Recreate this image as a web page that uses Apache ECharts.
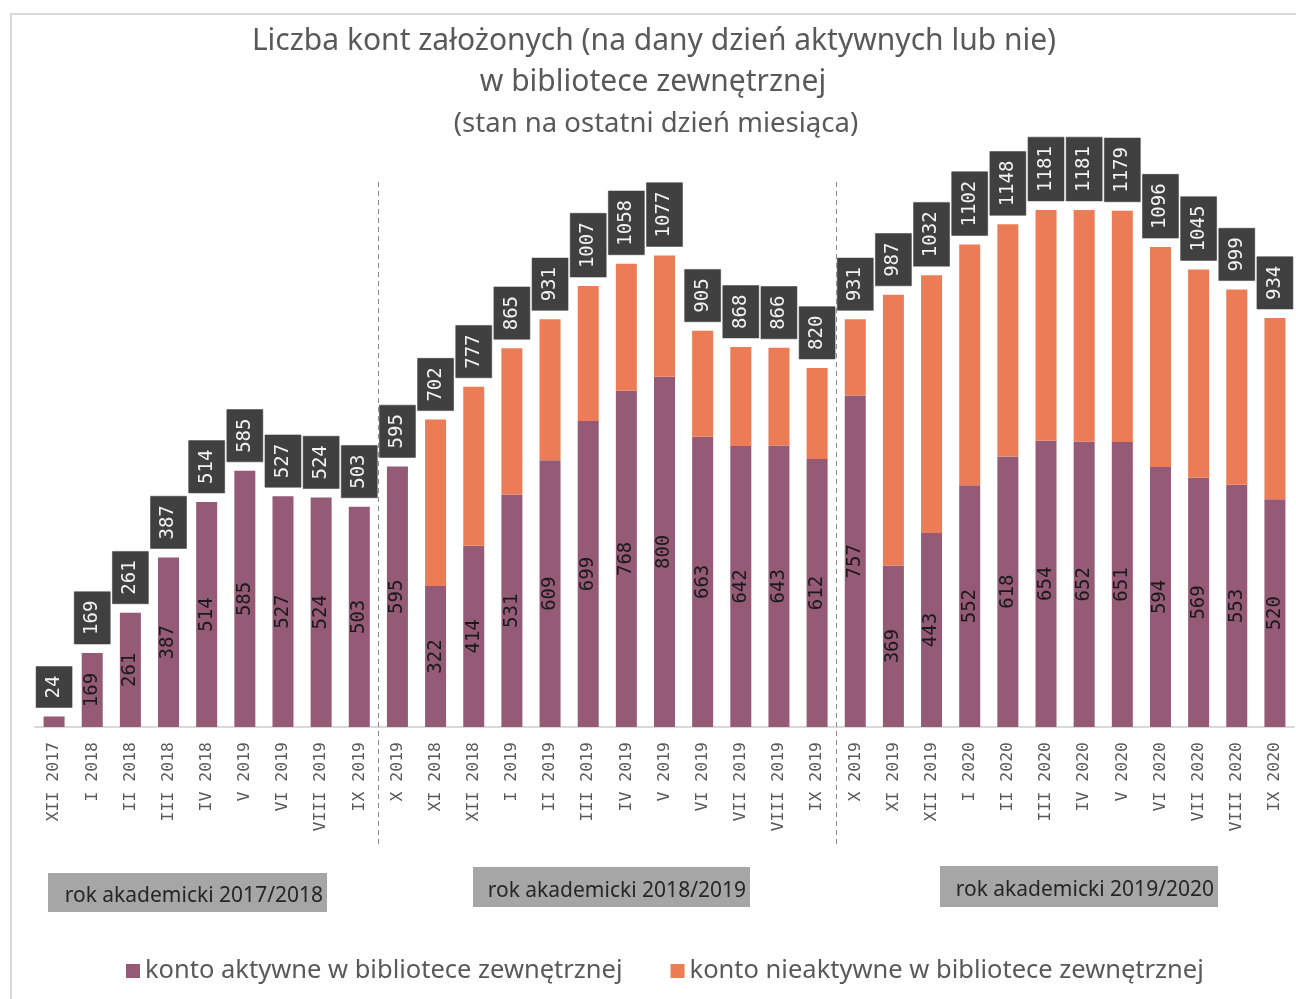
<!DOCTYPE html>
<html>
<head>
<meta charset="utf-8">
<script src="https://cdn.jsdelivr.net/npm/echarts@6/dist/echarts.min.js"></script>
<style>
html,body{margin:0;padding:0;background:#fff;}
#chart{width:1296px;height:999px;}
</style>
</head>
<body>
<div id="chart"></div>
<script>
const categories = ['XII 2017','I 2018','II 2018','III 2018','IV 2018','V 2019','VI 2019','VIII 2019','IX 2019',
  'X 2019','XI 2018','XII 2018','I 2019','II 2019','III 2019','IV 2019','V 2019','VI 2019','VII 2019','VIII 2019','IX 2019',
  'X 2019','XI 2019','XII 2019','I 2020','II 2020','III 2020','IV 2020','V 2020','VI 2020','VII 2020','VIII 2020','IX 2020'];
const active = [24,169,261,387,514,585,527,524,503,
  595,322,414,531,609,699,768,800,663,642,643,612,
  757,369,443,552,618,654,652,651,594,569,553,520];
const inactive = [0,0,0,0,0,0,0,0,0,
  0,380,363,334,322,308,290,277,242,226,223,208,
  174,618,589,550,530,527,529,528,502,476,446,414];
const totals = [24,169,261,387,514,585,527,524,503,
  595,702,777,865,931,1007,1058,1077,905,868,866,820,
  931,987,1032,1102,1148,1181,1181,1179,1096,1045,999,934];
const seriesNames = ['konto aktywne w bibliotece zewnętrznej','konto nieaktywne w bibliotece zewnętrznej'];
const groupLabels = ['rok akademicki 2017/2018','rok akademicki 2018/2019','rok akademicki 2019/2020'];
const groupBreaks = [8, 20]; // last index of groups 1 and 2

const chart = echarts.init(document.getElementById('chart'));
const mono = '"DejaVu Sans Mono", monospace';
const sans = '"Noto Sans", "Open Sans", sans-serif';
const barW = 21;

chart.setOption({
  animation: false,
  backgroundColor: '#ffffff',
  title: [
    {text: 'Liczba kont założonych (na dany dzień aktywnych lub nie)', left: 649, top: 21, textAlign: 'center',
     textStyle: {fontFamily: sans, fontSize: 30, fontWeight: 'normal', color: '#595959'}},
    {text: 'w bibliotece zewnętrznej', left: 648, top: 62, textAlign: 'center',
     textStyle: {fontFamily: sans, fontSize: 30, fontWeight: 'normal', color: '#595959'}},
    {text: '(stan na ostatni dzień miesiąca)', left: 651, top: 105, textAlign: 'center',
     textStyle: {fontFamily: sans, fontSize: 27.5, fontWeight: 'normal', color: '#595959'}}
  ],
  legend: {
    data: seriesNames,
    left: 121, top: 953,
    icon: 'rect', itemWidth: 14, itemHeight: 14, itemGap: 48,
    textStyle: {fontFamily: sans, fontSize: 25.5, color: '#595959'}
  },
  grid: {left: 35, right: 2, top: 114, bottom: 272},
  xAxis: {
    type: 'category', data: categories,
    axisLine: {lineStyle: {color: '#d9d9d9', width: 2}},
    axisTick: {show: false},
    axisLabel: {rotate: 90, interval: 0, margin: 15, color: '#595959', fontFamily: mono, fontSize: 16.5}
  },
  yAxis: {type: 'value', min: 0, max: 1400, show: false, splitLine: {show: false}},
  series: [
    {
      name: seriesNames[0], type: 'bar', stack: 'a', data: active, barWidth: barW,
      itemStyle: {color: '#955A75'},
      label: {show: true, position: 'inside', rotate: 90, color: '#1a1a1a', fontFamily: mono, fontSize: 19,
        formatter: p => p.value < 60 ? '' : String(p.value)}
    },
    {
      name: seriesNames[1], type: 'bar', stack: 'a', data: inactive, barWidth: barW,
      itemStyle: {color: '#EC7C56'}
    },
    {
      name: 'suma', type: 'bar', data: totals, barWidth: barW, barGap: '-100%', z: 1,
      itemStyle: {color: 'rgba(0,0,0,0)'},
      label: {show: true, position: 'top', distance: 9, rotate: 90, align: 'left', verticalAlign: 'middle',
        color: '#f2f2f2', fontFamily: mono, fontSize: 19, lineHeight: 20,
        backgroundColor: '#404040', borderColor: '#9a9a9a', borderWidth: 0.5, padding: [8, 9, 8, 9]}
    }
  ]
});

// separators and group labels
const px = i => chart.convertToPixel({xAxisIndex: 0}, i);
const graphics = [
  {type: 'rect', shape: {x: 11, y: 14, width: 1400, height: 1100}, style: {fill: 'none', stroke: '#d9d9d9', lineWidth: 2}, z: 0}
];
groupBreaks.forEach(b => {
  const x = Math.round((px(b) + px(b + 1)) / 2) + 0.5;
  graphics.push({type: 'line', shape: {x1: x, y1: 182, x2: x, y2: 845},
    style: {stroke: '#8c8c8c', lineWidth: 1, lineDash: [5, 4]}, z: 5});
});
const boxes = [
  {x: 48, y: 873, w: 279, h: 39},
  {x: 473, y: 867, w: 277, h: 40},
  {x: 940, y: 866, w: 278, h: 41}
];
boxes.forEach((b, i) => {
  graphics.push({type: 'rect', shape: {x: b.x, y: b.y, width: b.w, height: b.h},
    style: {fill: '#a6a6a6'}, z: 5});
  graphics.push({type: 'text', x: b.x + b.w - 4, y: b.y + b.h / 2 + 4,
    style: {text: groupLabels[i], fill: '#262626', font: '21px "Noto Sans", sans-serif', textAlign: 'right', textVerticalAlign: 'middle'}, z: 6});
});
chart.setOption({graphic: graphics});
</script>
</body>
</html>
